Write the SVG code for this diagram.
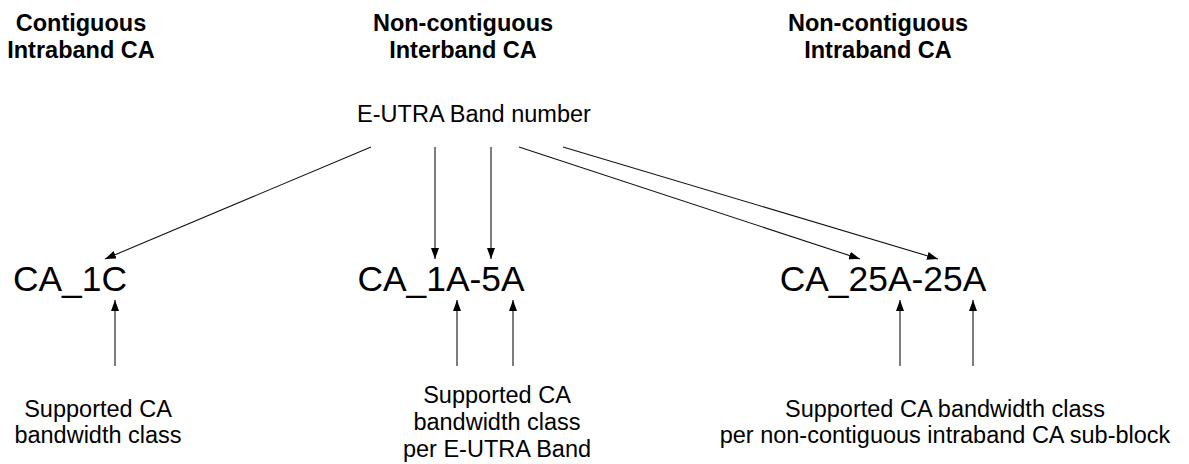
<svg xmlns="http://www.w3.org/2000/svg" width="1189" height="464" viewBox="0 0 1189 464">
<style>
.t{font-family:"Liberation Sans",Arial,sans-serif;font-size:23.5px;fill:#000;text-anchor:middle}
.b{font-weight:bold}
.big{font-family:"Liberation Sans",Arial,sans-serif;font-size:35.4px;fill:#000;text-anchor:middle}
.c{stroke:#111;stroke-width:1.1;fill:none;marker-end:url(#ah)}
</style>
<defs>
<marker id="ah" markerUnits="userSpaceOnUse" markerWidth="11" markerHeight="8" refX="11" refY="4" orient="auto">
<path d="M0,0 L11,4 L0,8 z" fill="#000"/>
</marker>
</defs>
<rect width="1189" height="464" fill="#fff"/>
<g id="title-contiguous"><text class="t b" x="81" y="31">Contiguous</text><text class="t b" x="81" y="58">Intraband CA</text></g>
<g id="title-interband"><text class="t b" x="463" y="31">Non-contiguous</text><text class="t b" x="463" y="58">Interband CA</text></g>
<g id="title-intraband"><text class="t b" x="878" y="31">Non-contiguous</text><text class="t b" x="878" y="58">Intraband CA</text></g>
<g id="band-number"><text class="t" x="474" y="122">E-UTRA Band number</text></g>
<g id="ca-1c"><text class="big" x="70" y="291">CA_1C</text></g>
<g id="ca-1a-5a"><text class="big" x="441" y="291">CA_1A-5A</text></g>
<g id="ca-25a-25a"><text class="big" x="883" y="291">CA_25A-25A</text></g>
<g id="note-left"><text class="t" x="98" y="417">Supported CA</text><text class="t" x="98" y="443">bandwidth class</text></g>
<g id="note-middle"><text class="t" x="497" y="403">Supported CA</text><text class="t" x="497" y="430">bandwidth class</text><text class="t" x="497" y="457">per E-UTRA Band</text></g>
<g id="note-right"><text class="t" x="945" y="417">Supported CA bandwidth class</text><text class="t" x="945" y="443">per non-contiguous intraband CA sub-block</text></g>
<g id="connectors">
<line class="c" x1="371" y1="147" x2="105" y2="259"/>
<line class="c" x1="435" y1="147" x2="435" y2="259"/>
<line class="c" x1="491" y1="147" x2="491" y2="259"/>
<line class="c" x1="519" y1="147" x2="860" y2="259"/>
<line class="c" x1="563" y1="147" x2="938" y2="259"/>
<line class="c" x1="115" y1="366" x2="115" y2="300"/>
<line class="c" x1="457" y1="366" x2="457" y2="300"/>
<line class="c" x1="513" y1="366" x2="513" y2="300"/>
<line class="c" x1="900" y1="366" x2="900" y2="300"/>
<line class="c" x1="973" y1="366" x2="973" y2="300"/>
</g>
</svg>
